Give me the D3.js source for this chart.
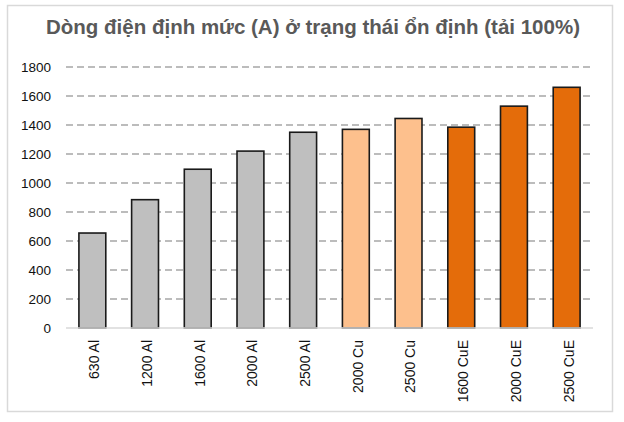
<!DOCTYPE html>
<html>
<head>
<meta charset="utf-8">
<script src="https://cdn.jsdelivr.net/npm/d3@7"></script>
<style>
  html, body { margin: 0; padding: 0; background: #fff; }
  svg { display: block; font-family: "Liberation Sans", Arial, sans-serif; }
</style>
</head>
<body>
<div id="chart"></div>
<script>
// chart data
const title = "Dòng điện định mức (A) ở trạng thái ổn định (tải 100%)";
const categories = ["630 Al", "1200 Al", "1600 Al", "2000 Al", "2500 Al",
                    "2000 Cu", "2500 Cu", "1600 CuE", "2000 CuE", "2500 CuE"];
const values = [655, 885, 1095, 1220, 1350, 1370, 1445, 1385, 1530, 1660];
const groups = ["Al", "Al", "Al", "Al", "Al", "Cu", "Cu", "CuE", "CuE", "CuE"];
const yTicks = [0, 200, 400, 600, 800, 1000, 1200, 1400, 1600, 1800];

const colorByGroup = { Al: "#bfbfbf", Cu: "#fdc08d", CuE: "#e46c0a" };

const width = 624, height = 422;
const margin = { top: 67, right: 31, bottom: 94, left: 66 };

const svg = d3.select("#chart")
  .append("svg")
  .attr("width", width)
  .attr("height", height);

// outer frame
svg.append("rect")
  .attr("x", 7.5).attr("y", 5.5)
  .attr("width", 605).attr("height", 406)
  .attr("fill", "#fff")
  .attr("stroke", "#d9d9d9")
  .attr("stroke-width", 1.5);

// title
svg.append("text")
  .attr("x", 313)
  .attr("y", 34)
  .attr("text-anchor", "middle")
  .style("font-size", "20.5px")
  .style("font-weight", "bold")
  .style("fill", "#595959")
  .text(title);

const x = d3.scaleBand()
  .domain(categories)
  .range([margin.left, width - margin.right])
  .paddingInner(0.49)
  .paddingOuter(0.245);

const y = d3.scaleLinear()
  .domain([0, 1800])
  .range([height - margin.bottom, margin.top]);

// gridlines
svg.append("g")
  .selectAll("line")
  .data(yTicks.filter(d => d > 0))
  .enter()
  .append("line")
  .attr("x1", margin.left)
  .attr("x2", width - margin.right)
  .attr("y1", d => y(d))
  .attr("y2", d => y(d))
  .attr("stroke", "#a6a6a6")
  .attr("stroke-width", 1.5)
  .attr("stroke-dasharray", "7,4");

// y axis labels
const yAxis = svg.append("g")
  .attr("transform", `translate(${margin.left}, 0)`)
  .call(d3.axisLeft(y).tickValues(yTicks).tickFormat(d3.format("d")).tickSize(0).tickPadding(15));
yAxis.select(".domain").remove();
yAxis.selectAll("text")
  .style("font-size", "13.5px")
  .style("font-family", "\"Liberation Sans\", Arial, sans-serif")
  .style("fill", "#111");

// bars
svg.append("g")
  .selectAll("rect")
  .data(values)
  .enter()
  .append("rect")
  .attr("x", (d, i) => x(categories[i]))
  .attr("y", d => y(d))
  .attr("width", x.bandwidth())
  .attr("height", d => y(0) - y(d))
  .attr("fill", (d, i) => colorByGroup[groups[i]])
  .attr("stroke", "#1a1a1a")
  .attr("stroke-width", 1.6);

// baseline
svg.append("line")
  .attr("x1", margin.left)
  .attr("x2", width - margin.right)
  .attr("y1", y(0))
  .attr("y2", y(0))
  .attr("stroke", "#d9d9d9")
  .attr("stroke-width", 1.5);

// x labels, rotated
svg.append("g")
  .selectAll("text")
  .data(categories)
  .enter()
  .append("text")
  .attr("transform", d => `translate(${x(d) + x.bandwidth() / 2 + 2}, ${y(0) + 12}) rotate(-90)`)
  .attr("text-anchor", "end")
  .attr("dy", "0.35em")
  .style("font-size", "14px")
  .style("fill", "#111")
  .text(d => d);
</script>
</body>
</html>
